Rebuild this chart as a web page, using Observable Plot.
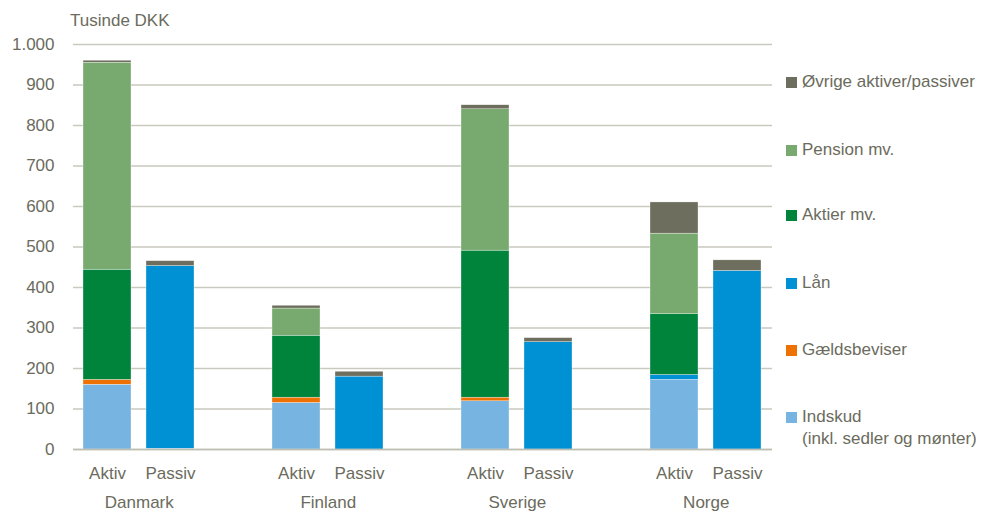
<!DOCTYPE html>
<html>
<head>
<meta charset="utf-8">
<script src="https://cdn.jsdelivr.net/npm/d3@7"></script>
<script src="https://cdn.jsdelivr.net/npm/@observablehq/plot@0.6"></script>
<style>
  html, body { margin: 0; padding: 0; background: #fff; }
  #wrap { position: relative; width: 982px; height: 513px; overflow: hidden;
          font-family: "Liberation Sans", Arial, sans-serif; color: #6b6b5d; }
  #title { position: absolute; left: 70px; top: 11px; font-size: 17px; line-height: 20px; }
  #chart { position: absolute; left: 0; top: 36px; }
  #legend { position: absolute; left: 786px; top: 0; font-size: 17px; }
  .item { position: absolute; left: 0; white-space: nowrap; line-height: 22px; }
  .sw { position: absolute; left: 0; top: 6px; width: 11px; height: 11px; }
  .lab { position: absolute; left: 16px; top: 0; }
</style>
</head>
<body>
<div id="wrap">
  <div id="title">Tusinde DKK</div>
  <div id="chart"></div>
  <div id="legend"></div>
</div>
<script>
// ---- data ----
const countries = ["Danmark", "Finland", "Sverige", "Norge"];
const sides = ["Aktiv", "Passiv"];
const seriesNames = ["Indskud", "Gældsbeviser", "Lån", "Aktier mv.", "Pension mv.", "Øvrige aktiver/passiver"];
const legendLabels = ["Øvrige aktiver/passiver", "Pension mv.", "Aktier mv.", "Lån", "Gældsbeviser", "Indskud\n(inkl. sedler og mønter)"];
// order of values: DK-Aktiv, DK-Passiv, FI-Aktiv, FI-Passiv, SE-Aktiv, SE-Passiv, NO-Aktiv, NO-Passiv
const indskud = [160, 2, 115, 0, 119, 0, 172, 0];
const gaeldsbeviser = [12, 0, 13, 0, 9, 0, 0, 0];
const laan = [0, 451, 0, 180, 0, 265, 12, 441];
const aktier = [272, 0, 153, 0, 363, 0, 150, 0];
const pension = [511, 0, 67, 0, 349, 0, 199, 0];
const oevrige = [5, 12, 7, 12, 10, 10, 77, 26];
const yTicks = [0, 100, 200, 300, 400, 500, 600, 700, 800, 900, 1000];

const colors = ["#78b4e1", "#ee7203", "#0090d4", "#00843c", "#78aa6f", "#6e6e5e"];
const textColor = "#6b6b5d";
const gridColor = "#c9c9bf";

// ---- build table ----
const seriesValues = [indskud, gaeldsbeviser, laan, aktier, pension, oevrige];
const rows = [];
countries.forEach((c, ci) => {
  sides.forEach((s, si) => {
    const idx = ci * 2 + si;
    seriesNames.forEach((name, k) => {
      rows.push({key: c + "|" + s, country: c, side: s, series: name, value: seriesValues[k][idx]});
    });
  });
});
const xDomain = [];
countries.forEach((c, ci) => {
  sides.forEach(s => xDomain.push(c + "|" + s));
  if (ci < countries.length - 1) xDomain.push("gap" + ci);
});

const W = 982, H = 477, mL = 73, mR = 210, mT = 8, mB = 64;
const step = (W - mL - mR) / xDomain.length;
const fmt = d3.formatLocale({decimal: ",", thousands: ".", grouping: [3], currency: ["", " kr"]}).format(",d");

const plot = Plot.plot({
  width: W, height: H,
  marginLeft: mL, marginRight: mR, marginTop: mT, marginBottom: mB,
  style: {fontFamily: '"Liberation Sans", Arial, sans-serif', fontSize: "17px", color: textColor, background: "transparent"},
  x: {domain: xDomain, paddingInner: 0.236, paddingOuter: 0.118, axis: null},
  y: {domain: [0, 1000], axis: null},
  color: {domain: seriesNames, range: colors},
  marks: [
    Plot.gridY(yTicks, {stroke: gridColor, strokeOpacity: 1, strokeWidth: 1.3}),
    Plot.barY(rows, Plot.stackY({
      x: "key", y: "value", fill: "series", order: seriesNames,
      stroke: "#ffffff", strokeWidth: 0.4, strokeOpacity: 0.8
    })),
    Plot.ruleY([0], {stroke: "#bdbdb1", strokeWidth: 1.3}),
    Plot.axisY(yTicks, {tickSize: 0, tickPadding: 19, tickFormat: fmt, fill: textColor, fontSize: 17, label: null}),
    Plot.axisX(xDomain.filter(k => !k.startsWith("gap")), {
      tickSize: 0, tickPadding: 17, tickFormat: k => k.split("|")[1], fill: textColor, fontSize: 17, label: null
    }),
    Plot.text(countries, {
      x: c => c + "|Aktiv", y: 0, text: d => d, dx: step / 2, dy: 53,
      fill: textColor, fontSize: 17
    })
  ]
});
document.getElementById("chart").appendChild(plot);

// ---- legend ----
const legendTops = [71, 139, 204, 272, 339, 406];
const legend = document.getElementById("legend");
legendLabels.forEach((lab, i) => {
  const k = seriesNames.length - 1 - i;
  const item = document.createElement("div");
  item.className = "item";
  item.style.top = legendTops[i] + "px";
  const sw = document.createElement("div");
  sw.className = "sw";
  sw.style.background = colors[k];
  const t = document.createElement("div");
  t.className = "lab";
  t.innerHTML = lab.replace("\n", "<br>");
  item.appendChild(sw);
  item.appendChild(t);
  legend.appendChild(item);
});
</script>
</body>
</html>
